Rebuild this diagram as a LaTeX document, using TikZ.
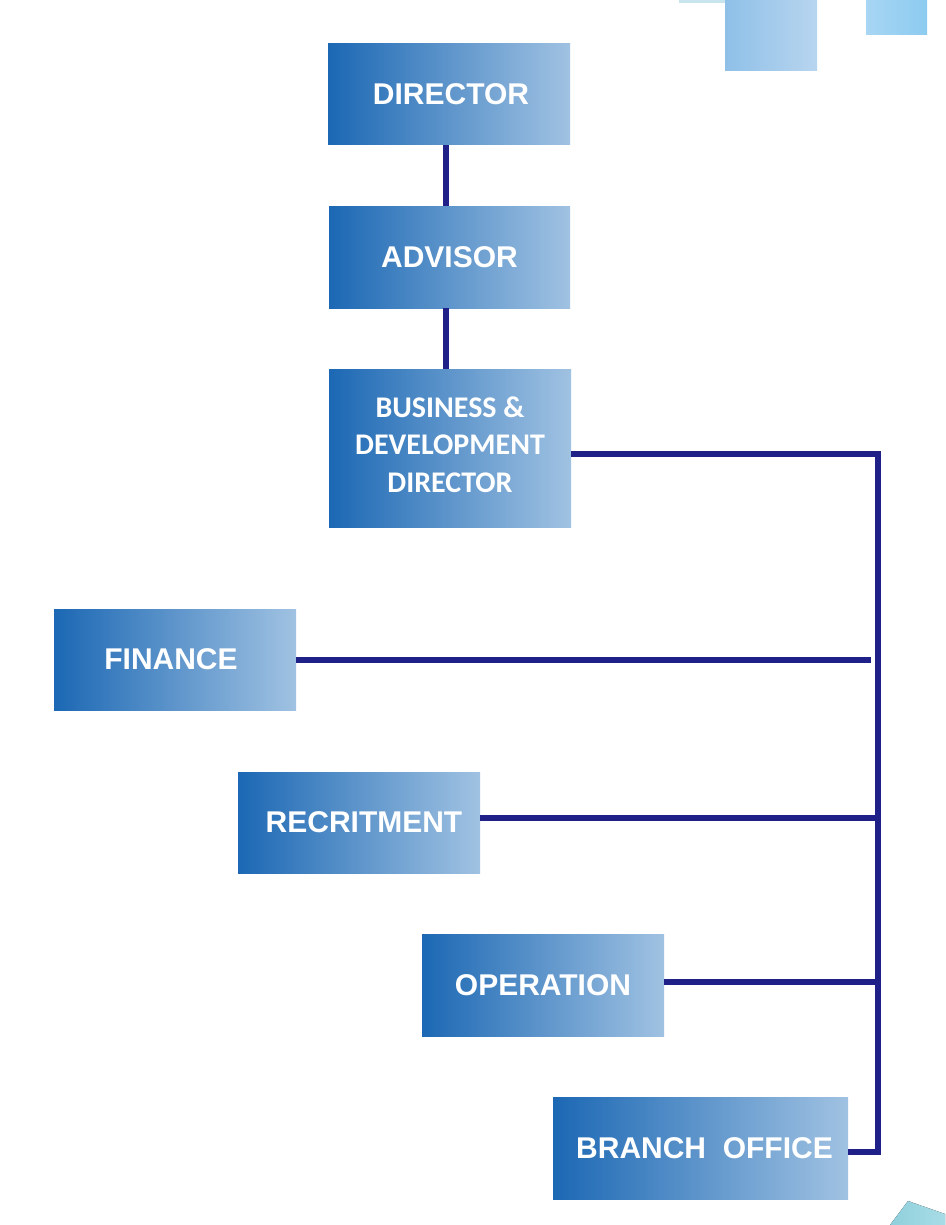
\documentclass[tikz,border=0pt]{standalone}
\usepackage{fontspec}
\setmainfont{Liberation Sans}
\newfontfamily\calib{Carlito}
\definecolor{boxL}{HTML}{1C68B4}
\definecolor{boxR}{HTML}{A0C2E2}
\definecolor{navy}{HTML}{1F2088}
\definecolor{decoA}{HTML}{8FC0E8}
\definecolor{decoB}{HTML}{B8D5EF}
\definecolor{decoC}{HTML}{A8D6F3}
\definecolor{decoD}{HTML}{8CCBF0}
\definecolor{decoE}{HTML}{C8E4EC}
\definecolor{decoF}{HTML}{8FD0DC}
\definecolor{decoG}{HTML}{A8DCE6}
\tikzset{
  orgbox/.style={rectangle, inner sep=0pt, left color=boxL, right color=boxR,
    text=white, font=\fontsize{30}{36}\selectfont\bfseries, align=center},
  link/.style={draw=navy, line width=6pt}
}
\begin{document}
\begin{tikzpicture}[x=1pt,y=-1pt]
\useasboundingbox (0,0) rectangle (945,1225);
% decorations
\fill[left color=decoE, right color=decoE] (679,0) rectangle (725,2.5);
\fill[left color=decoA, right color=decoB] (725,0) rectangle (817,71);
\fill[left color=decoC, right color=decoD] (866,0) rectangle (927,35);
\fill[left color=decoF, right color=decoG] (908,1201) -- (945,1214) -- (945,1225) -- (890,1225) -- cycle;
% boxes
\node[orgbox, minimum width=242, minimum height=101] (dir) at (449,94.5) {\hspace*{4pt}DIRECTOR};
\node[orgbox, minimum width=241, minimum height=102] (adv) at (449.5,257) {ADVISOR};
\node[orgbox, minimum width=242, minimum height=158, text depth=7pt, font=\calib\fontsize{30}{37.5}\selectfont\bfseries] (bd) at (450,448) {BUSINESS \&\\DEVELOPMENT\\DIRECTOR};
\node[orgbox, minimum width=242, minimum height=101] (fin) at (175,659.5) {\hspace*{-8pt}FINANCE};
\node[orgbox, minimum width=242, minimum height=101] (rec) at (359,822.5) {\hspace*{10pt}RECRITMENT};
\node[orgbox, minimum width=242, minimum height=102] (ope) at (543,985) {OPERATION};
\node[orgbox, minimum width=295, minimum height=102] (bra) at (700.5,1148) {\hspace*{8pt}BRANCH\ \ OFFICE};
% spine coordinates
\coordinate (c1) at (878,454);
\coordinate (c2) at (878,1152);
\coordinate (fend) at (870.5,659.5);
\coordinate (rend) at (874.5,817.5);
\coordinate (oend) at (878,982);
\coordinate (stem) at (446,94.5);
% connectors
\draw[link] (stem |- dir.south) -- (stem |- adv.north);
\draw[link] (stem |- adv.south) -- (stem |- bd.north);
\draw[link, line join=miter] ([yshift=-6pt]bd.east) -- (c1) -- (c2) -- ([yshift=-4pt]bra.east);
\draw[link] (fin.east) -- (fend);
\draw[link] ([yshift=5pt]rec.east) -- (rend);
\draw[link] ([yshift=3pt]ope.east) -- (oend);
\end{tikzpicture}
\end{document}
